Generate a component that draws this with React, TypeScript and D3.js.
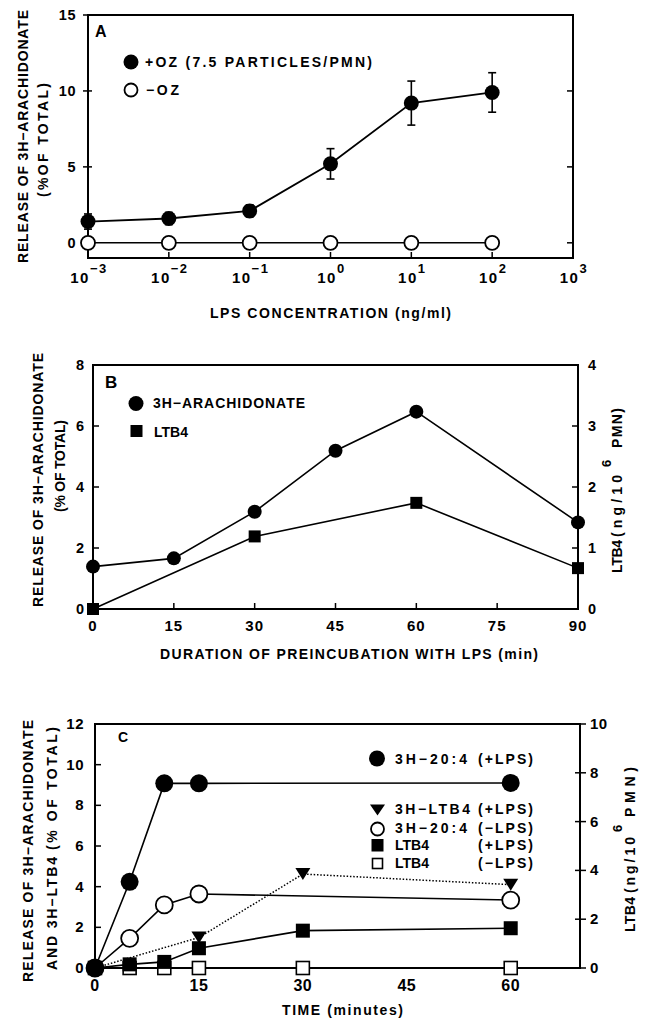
import React from 'react';
import * as d3 from 'd3';

const FONT = '"Liberation Sans", Arial, Helvetica, sans-serif';

// panel A: release vs LPS concentration
const lpsDoses = [1e-3, 1e-2, 1e-1, 1e0, 1e1, 1e2];
const releasePlusOZ = [1.4, 1.6, 2.1, 5.2, 9.2, 9.9];
const errPlusOZ = [0.5, 0.4, 0.4, 1.0, 1.45, 1.3];
const releaseMinusOZ = [0, 0, 0, 0, 0, 0];
const aTickExps = [-3, -2, -1, 0, 1, 2, 3];
const aYTicks = [0, 5, 10, 15];

// panel B: duration of preincubation
const preincMinutes = [0, 15, 30, 45, 60, 90];
const arachidonateB = [1.39, 1.66, 3.19, 5.19, 6.47, 2.84];
const ltb4MinutesB = [0, 30, 60, 90];
const ltb4B = [0, 1.19, 1.74, 0.67];
const bXTicks = [0, 15, 30, 45, 60, 75, 90];
const bYTicks = [0, 2, 4, 6, 8];
const bY2Ticks = [0, 1, 2, 3, 4];

// panel C: time course
const timeC = [0, 5, 10, 15, 60];
const arachPlusLPS = [0, 4.24, 9.08, 9.08, 9.1];
const arachMinusLPS = [0, 1.46, 3.1, 3.64, 3.34];
const h3LtbTime = [0, 15, 30, 60];
const h3LtbPlusLPS = [0, 1.5, 4.62, 4.1];
const ltbTime = [0, 5, 10, 15, 30, 60];
const ltbPlusLPS = [0, 0.15, 0.25, 0.81, 1.53, 1.63];
const ltbMinusLPS = [0, 0, 0, 0, 0, 0];
const cXTicks = [0, 15, 30, 45, 60];
const cYTicks = [0, 2, 4, 6, 8, 10, 12];
const cY2Ticks = [0, 2, 4, 6, 8, 10];

type P = [number, number];

const tri = (x: number, y: number, w: number, h: number) =>
  `M${x - w},${y - h / 2}L${x + w},${y - h / 2}L${x},${y + h / 2}Z`;

const Frame = ({ l, r, t, b }: { l: number; r: number; t: number; b: number }) => (
  <rect x={l} y={t} width={r - l} height={b - t} fill="none" stroke="#000" strokeWidth={2} />
);

// text stretched to the width it has in the figure
const Lbl = ({ x, y, len, size = 14, rot = false, children }: any) => (
  <text
    transform={rot ? `translate(${x},${y}) rotate(-90)` : `translate(${x},${y})`}
    fontSize={size}
    fontWeight="bold"
    textLength={len}
    lengthAdjust={len ? 'spacing' : undefined}
    style={{ whiteSpace: 'pre' }}
  >
    {children}
  </text>
);

const PanelA = () => {
  const x = d3.scaleLog().domain([1e-3, 1e3]).range([88, 573]);
  const y = d3.scaleLinear().domain([-1, 15]).range([258, 15]);
  const line = d3.line<P>().x(d => x(d[0])).y(d => y(d[1]));
  const plus: P[] = lpsDoses.map((d, i) => [d, releasePlusOZ[i]]);
  const minus: P[] = lpsDoses.map((d, i) => [d, releaseMinusOZ[i]]);
  return (
    <g>
      <Frame l={88} r={573} t={15} b={258} />
      {aYTicks.map(v => (
        <g key={v}>
          <line x1={83} x2={92} y1={y(v)} y2={y(v)} stroke="#000" strokeWidth={1.5} />
          <line x1={567} x2={573} y1={y(v)} y2={y(v)} stroke="#000" strokeWidth={1.5} />
          <text x={76} y={y(v) + 5} textAnchor="end" fontSize={14.5} fontWeight="bold" letterSpacing={0.5}>{v}</text>
        </g>
      ))}
      {aTickExps.map(e => (
        <g key={e}>
          <line x1={x(10 ** e)} x2={x(10 ** e)} y1={258} y2={252} stroke="#000" strokeWidth={1.5} />
          <text x={x(10 ** e) + 1} y={283} textAnchor="middle" fontSize={15} fontWeight="bold" letterSpacing={1.5}>
            10<tspan dy={-10} fontSize={13}>{e < 0 ? '\u2212' + Math.abs(e) : e}</tspan>
          </text>
        </g>
      ))}
      <Lbl x={210} y={318} len={241}>LPS CONCENTRATION (ng/ml)</Lbl>
      <Lbl x={28} y={263} len={253} rot>RELEASE OF 3H−ARACHIDONATE</Lbl>
      <Lbl x={48} y={197} len={114} rot>(%OF TOTAL)</Lbl>
      <text x={95} y={37} fontSize={16} fontWeight="bold">A</text>
      {/* legend */}
      <circle cx={131} cy={62} r={7.5} fill="#000" />
      <Lbl x={145} y={67} len={227}>+OZ (7.5 PARTICLES/PMN)</Lbl>
      <circle cx={131} cy={90} r={6.5} fill="#fff" stroke="#000" strokeWidth={1.8} />
      <Lbl x={146} y={95} len={33}>−OZ</Lbl>
      {/* data */}
      <path d={line(minus) || ''} fill="none" stroke="#000" strokeWidth={1.6} />
      <path d={line(plus) || ''} fill="none" stroke="#000" strokeWidth={1.8} />
      {plus.map((p, i) => (
        <g key={i} stroke="#000" strokeWidth={1.6}>
          <line x1={x(p[0])} x2={x(p[0])} y1={y(p[1] - errPlusOZ[i])} y2={y(p[1] + errPlusOZ[i])} />
          <line x1={x(p[0]) - 4} x2={x(p[0]) + 4} y1={y(p[1] - errPlusOZ[i])} y2={y(p[1] - errPlusOZ[i])} />
          <line x1={x(p[0]) - 4} x2={x(p[0]) + 4} y1={y(p[1] + errPlusOZ[i])} y2={y(p[1] + errPlusOZ[i])} />
        </g>
      ))}
      {minus.map((p, i) => (
        <circle key={i} cx={x(p[0])} cy={y(p[1])} r={7} fill="#fff" stroke="#000" strokeWidth={1.8} />
      ))}
      {plus.map((p, i) => (
        <circle key={i} cx={x(p[0])} cy={y(p[1])} r={7.5} fill="#000" />
      ))}
    </g>
  );
};

const PanelB = () => {
  const x = d3.scaleLinear().domain([0, 90]).range([93, 578]);
  const y = d3.scaleLinear().domain([0, 8]).range([609, 365]);
  const y2 = d3.scaleLinear().domain([0, 4]).range([609, 365]);
  const l1 = d3.line<P>().x(d => x(d[0])).y(d => y(d[1]));
  const l2 = d3.line<P>().x(d => x(d[0])).y(d => y2(d[1]));
  const arach: P[] = preincMinutes.map((d, i) => [d, arachidonateB[i]]);
  const ltb: P[] = ltb4MinutesB.map((d, i) => [d, ltb4B[i]]);
  return (
    <g>
      <Frame l={93} r={578} t={365} b={609} />
      {bYTicks.map(v => (
        <g key={v}>
          <line x1={93} x2={99} y1={y(v)} y2={y(v)} stroke="#000" strokeWidth={1.5} />
          <text x={84} y={y(v) + 5} textAnchor="end" fontSize={14.5} fontWeight="bold">{v}</text>
        </g>
      ))}
      {bY2Ticks.map(v => (
        <g key={v}>
          <line x1={572} x2={578} y1={y2(v)} y2={y2(v)} stroke="#000" strokeWidth={1.5} />
          <text x={588} y={y2(v) + 5} fontSize={14.5} fontWeight="bold">{v}</text>
        </g>
      ))}
      {bXTicks.map(v => (
        <g key={v}>
          <line x1={x(v)} x2={x(v)} y1={609} y2={603} stroke="#000" strokeWidth={1.5} />
          <text x={x(v)} y={631} textAnchor="middle" fontSize={15} fontWeight="bold" letterSpacing={1}>{v}</text>
        </g>
      ))}
      <Lbl x={160} y={659} len={378}>DURATION OF PREINCUBATION WITH LPS (min)</Lbl>
      <Lbl x={43} y={607} len={254} rot>RELEASE OF 3H−ARACHIDONATE</Lbl>
      <Lbl x={65} y={512} len={92} size={14} rot>(% OF TOTAL)</Lbl>
      <Lbl x={622} y={573} len={33} rot>LTB4</Lbl>
      <Lbl x={622} y={537} len={62} rot>(ng/10</Lbl>
      <Lbl x={611} y={467} len={9} size={13} rot>6</Lbl>
      <Lbl x={622} y={448} len={40} rot>PMN)</Lbl>
      <text x={105} y={388} fontSize={17} fontWeight="bold">B</text>
      <circle cx={136} cy={403.5} r={7.5} fill="#000" />
      <Lbl x={153} y={408} len={152}>3H−ARACHIDONATE</Lbl>
      <rect x={130.5} y={425} width={12} height={12} fill="#000" />
      <Lbl x={154} y={437}>LTB4</Lbl>
      <path d={l1(arach) || ''} fill="none" stroke="#000" strokeWidth={1.6} />
      <path d={l2(ltb) || ''} fill="none" stroke="#000" strokeWidth={1.6} />
      {arach.map((p, i) => (
        <circle key={i} cx={x(p[0])} cy={y(p[1])} r={7} fill="#000" />
      ))}
      {ltb.map((p, i) => (
        <rect key={i} x={x(p[0]) - 6} y={y2(p[1]) - 6} width={12} height={12} fill="#000" />
      ))}
    </g>
  );
};

const PanelC = () => {
  const x = d3.scaleLinear().domain([0, 70]).range([95, 580]);
  const y = d3.scaleLinear().domain([0, 12]).range([968, 724]);
  const y2 = d3.scaleLinear().domain([0, 10]).range([968, 724]);
  const l1 = d3.line<P>().x(d => x(d[0])).y(d => y(d[1]));
  const l2 = d3.line<P>().x(d => x(d[0])).y(d => y2(d[1]));
  const plus: P[] = timeC.map((d, i) => [d, arachPlusLPS[i]]);
  const minus: P[] = timeC.map((d, i) => [d, arachMinusLPS[i]]);
  const h3: P[] = h3LtbTime.map((d, i) => [d, h3LtbPlusLPS[i]]);
  const ltbP: P[] = ltbTime.map((d, i) => [d, ltbPlusLPS[i]]);
  const ltbM: P[] = ltbTime.map((d, i) => [d, ltbMinusLPS[i]]);
  return (
    <g>
      <Frame l={95} r={580} t={724} b={968} />
      {cYTicks.map(v => (
        <g key={v}>
          <line x1={95} x2={101} y1={y(v)} y2={y(v)} stroke="#000" strokeWidth={1.5} />
          <text x={84} y={y(v) + 5} textAnchor="end" fontSize={15} fontWeight="bold" letterSpacing={0.5}>{v}</text>
        </g>
      ))}
      {cY2Ticks.map(v => (
        <g key={v}>
          <line x1={575} x2={586} y1={y2(v)} y2={y2(v)} stroke="#000" strokeWidth={1.5} />
          <text x={590} y={y2(v) + 5} fontSize={15} fontWeight="bold" letterSpacing={0.5}>{v}</text>
        </g>
      ))}
      {cXTicks.map(v => (
        <text key={v} x={x(v)} y={991} textAnchor="middle" fontSize={16} fontWeight="bold" letterSpacing={0.5}>{v}</text>
      ))}
      <Lbl x={282} y={1015} len={121}>TIME (minutes)</Lbl>
      <Lbl x={33} y={982} len={262} rot>RELEASE OF 3H−ARACHIDONATE</Lbl>
      <Lbl x={57} y={970} len={113} rot>AND 3H−LTB4</Lbl>
      <Lbl x={57} y={850} len={123} rot>(% OF TOTAL)</Lbl>
      <Lbl x={635} y={932} len={35} rot>LTB4</Lbl>
      <Lbl x={635} y={893} len={56} rot>(ng/10</Lbl>
      <Lbl x={622} y={832} len={9} size={13} rot>6</Lbl>
      <Lbl x={635} y={817} len={50} rot>PMN)</Lbl>
      <text x={118} y={742} fontSize={14} fontWeight="bold">C</text>
      {/* legend */}
      <circle cx={377} cy={758.5} r={8} fill="#000" />
      <Lbl x={395} y={764} len={72}>3H−20:4</Lbl>
      <Lbl x={478} y={764} len={55}>(+LPS)</Lbl>
      <path d={tri(377.5, 810, 7.5, 11)} fill="#000" />
      <Lbl x={395} y={814} len={75}>3H−LTB4</Lbl>
      <Lbl x={478} y={814} len={55}>(+LPS)</Lbl>
      <circle cx={377.5} cy={829} r={6.5} fill="#fff" stroke="#000" strokeWidth={1.8} />
      <Lbl x={395} y={833} len={72}>3H−20:4</Lbl>
      <Lbl x={478} y={833} len={55}>(−LPS)</Lbl>
      <rect x={371.5} y={839} width={12} height={12.5} fill="#000" />
      <Lbl x={395} y={850}>LTB4</Lbl>
      <Lbl x={478} y={850} len={55}>(+LPS)</Lbl>
      <rect x={372.5} y={858.5} width={10} height={10} fill="#fff" stroke="#000" strokeWidth={1.6} />
      <Lbl x={395} y={868}>LTB4</Lbl>
      <Lbl x={478} y={868} len={55}>(−LPS)</Lbl>
      {/* lines */}
      <path d={l1(h3) || ''} fill="none" stroke="#000" strokeWidth={1.5} strokeDasharray="1.5 1.8" />
      <path d={l2(ltbM) || ''} fill="none" stroke="#000" strokeWidth={1.6} />
      <path d={l2(ltbP) || ''} fill="none" stroke="#000" strokeWidth={1.6} />
      <path d={l1(minus) || ''} fill="none" stroke="#000" strokeWidth={1.6} />
      <path d={l1(plus) || ''} fill="none" stroke="#000" strokeWidth={1.6} />
      {/* markers */}
      {ltbM.map((p, i) => (
        <rect key={i} x={x(p[0]) - 6.5} y={y2(p[1]) - 6.5} width={13} height={13} fill="#fff" stroke="#000" strokeWidth={1.6} />
      ))}
      {h3.slice(1).map((p, i) => (
        <path key={i} d={tri(x(p[0]), y(p[1]), 7.5, 12)} fill="#000" />
      ))}
      {ltbP.map((p, i) => (
        <rect key={i} x={x(p[0]) - 7} y={y2(p[1]) - 7} width={14} height={14} fill="#000" />
      ))}
      {minus.map((p, i) => (
        <circle key={i} cx={x(p[0])} cy={y(p[1])} r={8.5} fill="#fff" stroke="#000" strokeWidth={1.8} />
      ))}
      {plus.map((p, i) => (
        <circle key={i} cx={x(p[0])} cy={y(p[1])} r={9} fill="#000" />
      ))}
    </g>
  );
};

export default function App() {
  return (
    <svg
      width={650}
      height={1020}
      style={{ position: 'absolute', left: 0, top: 0, background: '#fff' }}
      fontFamily={FONT}
    >
      <rect width={650} height={1020} fill="#fff" />
      <PanelA />
      <PanelB />
      <PanelC />
    </svg>
  );
}
